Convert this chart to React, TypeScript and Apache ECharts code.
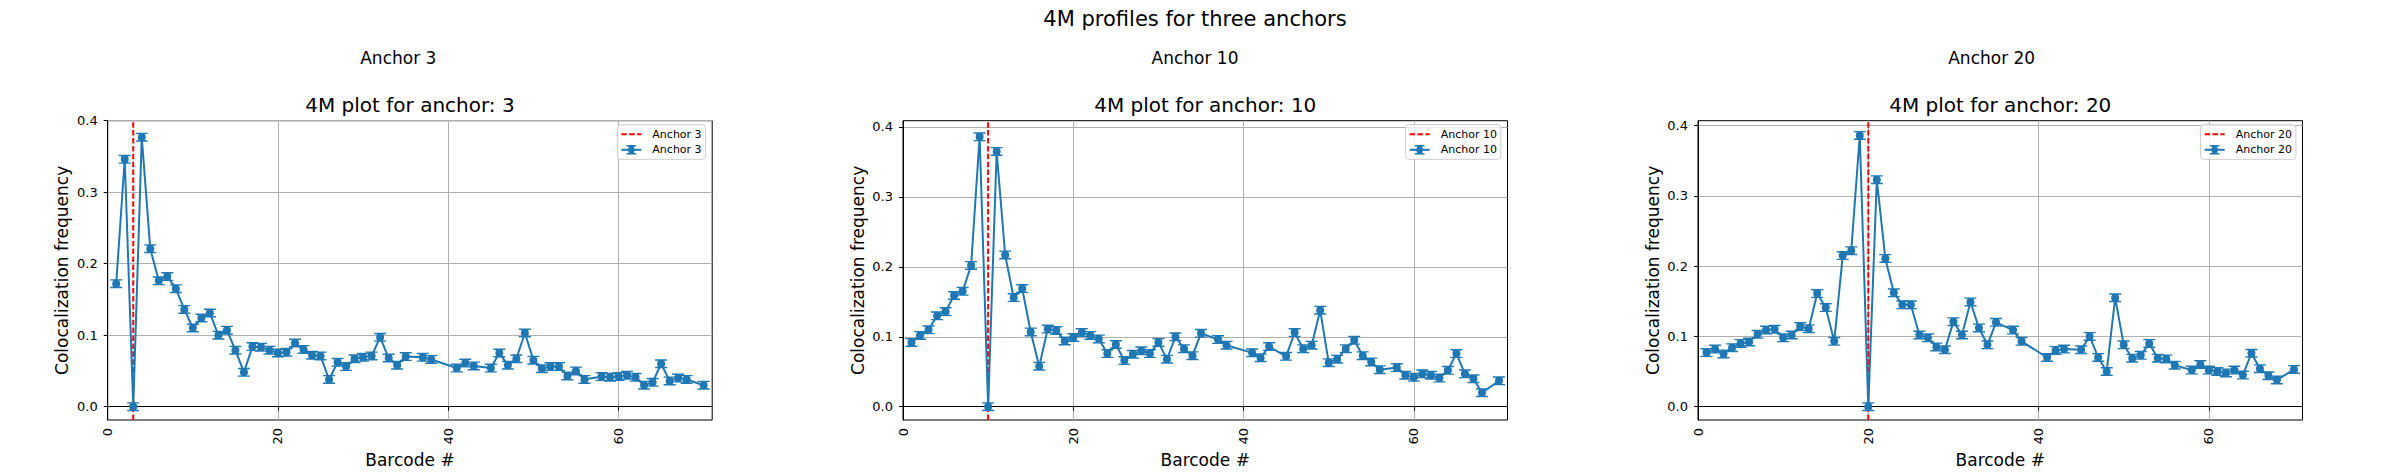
import React, { useEffect, useRef } from "react";
import * as echarts from "echarts";

// ---------------- data ----------------
const barcodes = [
  1, 2, 3, 4, 5, 6, 7, 8, 9, 10, 11, 12, 13, 14, 15, 16, 17, 18, 19, 20,
  21, 22, 23, 24, 25, 26, 27, 28, 29, 30, 31, 32, 33, 34, 35, 37, 38,
  41, 42, 43, 45, 46, 47, 48, 49, 50, 51, 52, 53, 54, 55, 56,
  58, 59, 60, 61, 62, 63, 64, 65, 66, 67, 68, 70,
];

const anchor3Values = [
  0.172, 0.346, 0, 0.377, 0.221, 0.176, 0.182, 0.165, 0.136, 0.11,
  0.124, 0.131, 0.1, 0.107, 0.079, 0.048, 0.084, 0.083, 0.079, 0.075,
  0.076, 0.089, 0.08, 0.072, 0.071, 0.038, 0.062, 0.056, 0.067, 0.069,
  0.071, 0.097, 0.068, 0.058, 0.07,
  0.069, 0.066,
  0.054, 0.061, 0.057,
  0.054, 0.075, 0.058, 0.067, 0.103, 0.065, 0.053, 0.056, 0.056, 0.043, 0.05, 0.038,
  0.042, 0.041, 0.042, 0.044, 0.041, 0.03, 0.034, 0.06, 0.036, 0.04, 0.038,
  0.03,
];

const anchor10Values = [
  0.092, 0.102, 0.11, 0.13, 0.136, 0.159, 0.165, 0.202, 0.386, 0,
  0.365, 0.217, 0.156, 0.169, 0.107, 0.058, 0.111, 0.109, 0.094, 0.099,
  0.106, 0.102, 0.097, 0.076, 0.089, 0.066, 0.075, 0.08, 0.076, 0.092,
  0.068, 0.1, 0.083, 0.073, 0.105,
  0.096, 0.088,
  0.077, 0.07, 0.086,
  0.072, 0.106, 0.083, 0.088, 0.138, 0.063, 0.068, 0.083, 0.095, 0.073, 0.064, 0.053,
  0.056, 0.045, 0.042, 0.047, 0.045, 0.041, 0.052, 0.076, 0.047, 0.04, 0.02,
  0.037,
];

const anchor20Values = [
  0.077, 0.082, 0.075, 0.084, 0.09, 0.092, 0.103, 0.109, 0.11, 0.098,
  0.102, 0.114, 0.111, 0.161, 0.141, 0.093, 0.215, 0.222, 0.386, 0,
  0.323, 0.211, 0.162, 0.145, 0.145, 0.102, 0.098, 0.085, 0.081, 0.121,
  0.102, 0.149, 0.112, 0.088, 0.12,
  0.109, 0.093,
  0.07, 0.08, 0.082,
  0.081, 0.1, 0.07, 0.05, 0.155, 0.088, 0.069, 0.073, 0.09, 0.069, 0.068, 0.059,
  0.052, 0.06, 0.052, 0.05, 0.048, 0.052, 0.045, 0.076, 0.054, 0.044, 0.038,
  0.053,
];

const anchors = [3, 10, 20];
const anchorValues = [anchor3Values, anchor10Values, anchor20Values];
const yLimits = [
  [-0.0187, 0.4],
  [-0.019, 0.409],
  [-0.019, 0.407],
];
const xLimits = [0, 71];
const xTicks = [0, 20, 40, 60];
const yTicks = [0, 0.1, 0.2, 0.3, 0.4];

const suptitle = "4M profiles for three anchors";
const xName = "Barcode #";
const yName = "Colocalization frequency";

// ---------------- styling / layout ----------------
const FONT = "DejaVu Sans";
const BLUE = "#1f77b4";
const gridLefts = [107.7, 903, 1698];
const gridTop = 120.7;
const gridWidth = 604.5;
const gridHeight = 299.3;
const subfigCenters = [398.3, 1195, 1991.7];

// error-bar style marker: circle with caps above/below
const errMarker =
  "path://M0,0H12V1.4H0Z M0,7.6H12V9H0Z M5.4,0H6.6V9H5.4Z M2,4.5A4,4 0 1,1 10,4.5A4,4 0 1,1 2,4.5Z";

export default function App() {
  const ref = useRef<HTMLDivElement>(null);

  useEffect(() => {
    if (!ref.current) return;
    const chart = echarts.init(ref.current, null, { renderer: "svg" });

    const grids: any[] = [];
    const xAxes: any[] = [];
    const yAxes: any[] = [];
    const series: any[] = [];
    const legends: any[] = [];
    const graphics: any[] = [];

    graphics.push({
      type: "text",
      x: 1195,
      y: 19,
      style: {
        text: suptitle,
        fontSize: 21,
        fontFamily: FONT,
        fill: "#000",
        align: "center",
        verticalAlign: "middle",
      },
    });

    anchors.forEach((anchor, i) => {
      const left = gridLefts[i];
      grids.push({
        left,
        top: gridTop,
        width: gridWidth,
        height: gridHeight,
        show: true,
        borderColor: "#000",
        borderWidth: 1,
        backgroundColor: "transparent",
        containLabel: false,
        outerBoundsMode: "none",
      });
      xAxes.push({
        type: "value",
        gridIndex: i,
        min: xLimits[0],
        max: xLimits[1],
        name: xName,
        nameLocation: "middle",
        nameGap: 31,
        nameMoveOverlap: false,
        nameTextStyle: { fontSize: 17, fontFamily: FONT, color: "#000" },
        axisLine: { show: true, lineStyle: { color: "#000", width: 1 } },
        axisTick: {
          show: true,
          length: 4,
          customValues: xTicks,
          lineStyle: { color: "#000", width: 1 },
        },
        axisLabel: {
          customValues: xTicks,
          rotate: 90,
          margin: 8,
          fontSize: 13,
          fontFamily: FONT,
          color: "#000",
          formatter: (v: number) => String(v),
        },
        splitLine: { show: true, lineStyle: { color: "#b0b0b0", width: 1 } },
      });
      yAxes.push({
        type: "value",
        gridIndex: i,
        min: yLimits[i][0],
        max: yLimits[i][1],
        name: yName,
        nameLocation: "middle",
        nameGap: 37,
        nameMoveOverlap: false,
        nameTextStyle: { fontSize: 17, fontFamily: FONT, color: "#000" },
        axisLine: { show: true, lineStyle: { color: "#000", width: 1 } },
        axisTick: {
          show: true,
          length: 4,
          customValues: yTicks,
          lineStyle: { color: "#000", width: 1 },
        },
        axisLabel: {
          customValues: yTicks,
          margin: 10,
          fontSize: 13,
          fontFamily: FONT,
          color: "#000",
          formatter: (v: number) => v.toFixed(1),
        },
        splitLine: { show: true, lineStyle: { color: "#b0b0b0", width: 1 } },
      });

      const vName = `Anchor ${anchor} vline`;
      const dName = `Anchor ${anchor}`;
      series.push({
        type: "line",
        name: vName,
        xAxisIndex: i,
        yAxisIndex: i,
        data: [
          [anchor, yLimits[i][0]],
          [anchor, yLimits[i][1]],
        ],
        symbol: "none",
        lineStyle: { color: "#ff0000", width: 2, type: [5.5, 2.4] },
        itemStyle: { color: "rgba(0,0,0,0)", borderWidth: 0, borderColor: "rgba(0,0,0,0)" },
        z: 2,
        silent: true,
      });
      series.push({
        type: "line",
        name: dName,
        xAxisIndex: i,
        yAxisIndex: i,
        data: barcodes.map((b, k) => [b, anchorValues[i][k]]),
        symbol: errMarker,
        symbolSize: [12, 9],
        showAllSymbol: true,
        lineStyle: { color: BLUE, width: 2 },
        itemStyle: { color: BLUE },
        z: 3,
        silent: true,
      });

      legends.push({
        orient: "vertical",
        right: 2390 - (left + gridWidth - 6.6),
        top: 124.7,
        padding: [4, 4, 4, 3],
        itemWidth: 20,
        itemHeight: 12,
        itemGap: 4.6,
        borderColor: "#cccccc",
        borderWidth: 1,
        borderRadius: 3,
        backgroundColor: "rgba(255,255,255,0.8)",
        selectedMode: false,
        data: [vName, dName],
        formatter: (name: string) => name.replace(" vline", ""),
        textStyle: {
          fontSize: 11,
          fontFamily: FONT,
          color: "#000",
          padding: [0, 0, 0, 6],
        },
      });

      graphics.push({
        type: "text",
        x: subfigCenters[i],
        y: 58.3,
        style: {
          text: `Anchor ${anchor}`,
          fontSize: 17,
          fontFamily: FONT,
          fill: "#000",
          align: "center",
          verticalAlign: "middle",
        },
      });
      graphics.push({
        type: "text",
        x: left + gridWidth / 2,
        y: 105,
        style: {
          text: `4M plot for anchor: ${anchor}`,
          fontSize: 20,
          fontFamily: FONT,
          fill: "#000",
          align: "center",
          verticalAlign: "middle",
        },
      });
    });

    chart.setOption({
      animation: false,
      backgroundColor: "#ffffff",
      textStyle: { fontFamily: FONT },
      grid: grids,
      xAxis: xAxes,
      yAxis: yAxes,
      series,
      legend: legends,
      graphic: graphics,
    });

    return () => chart.dispose();
  }, []);

  return (
    <div
      ref={ref}
      style={{ position: "fixed", left: 0, top: 0, width: 2390, height: 473 }}
    />
  );
}
